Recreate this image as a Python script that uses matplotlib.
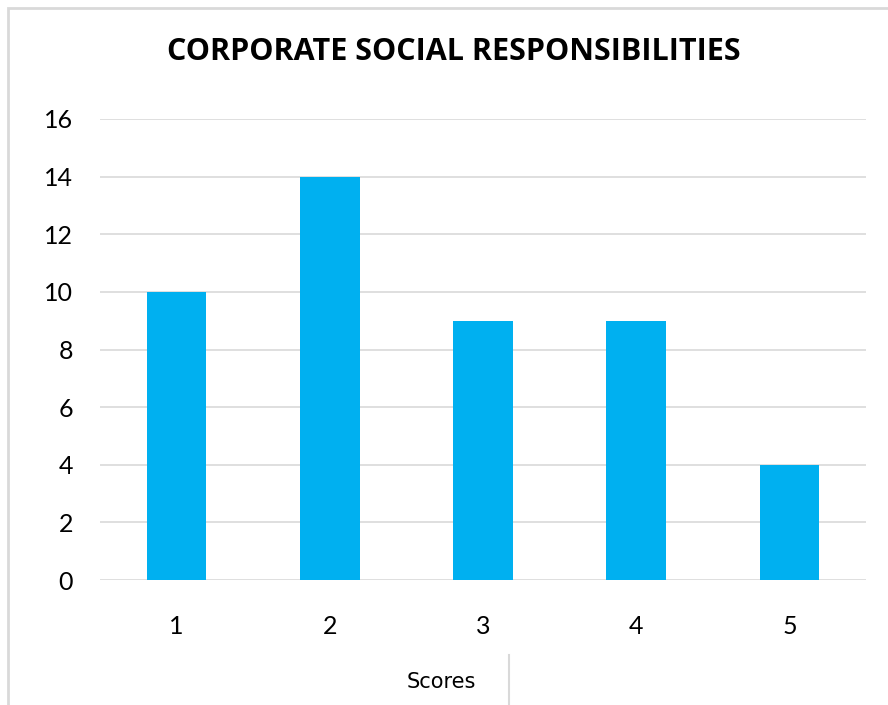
import matplotlib.pyplot as plt
from matplotlib.patches import Rectangle
from matplotlib.lines import Line2D

scores = ["1", "2", "3", "4", "5"]
counts = [10, 14, 9, 9, 4]
yticks = [0, 2, 4, 6, 8, 10, 12, 14, 16]

W, H = 888, 705
fig = plt.figure(figsize=(W / 100, H / 100), dpi=100)
plt.rcParams['font.family'] = ['Lato', 'DejaVu Sans']

# chart area frame
fig.patches.append(Rectangle((8 / W, -0.1), 1.2, 1 - 8.5 / H + 0.1, transform=fig.transFigure,
                             fill=False, edgecolor="#D9D9D9", linewidth=2, zorder=0))

ax = fig.add_axes([100 / W, 1 - 580 / H, 766 / W, 461 / H])
x = range(len(scores))
ax.bar(x, counts, width=0.39, color="#00B0F0", zorder=3)
ax.set_xlim(-0.5, len(scores) - 0.5)
ax.set_ylim(0, 16)
ax.set_yticks(yticks)
ax.set_xticks(list(x))
ax.set_xticklabels(scores)
ax.yaxis.grid(True, color="#D9D9D9", linewidth=1.2)
ax.set_axisbelow(True)
for s in ax.spines.values():
    s.set_visible(False)
ax.tick_params(axis="both", length=0, labelsize=18, colors="#000000")
ax.tick_params(axis="y", pad=19.5)
ax.tick_params(axis="x", pad=25)

fig.text(454 / W, 1 - 52 / H, "CORPORATE SOCIAL RESPONSIBILITIES", ha="center", va="center",
         fontsize=22, fontweight="bold", family=["Open Sans", "DejaVu Sans"], color="#000000")
fig.text(441 / W, 1 - 682 / H, "Scores", ha="center", va="center", fontsize=15,
         family=["DejaVu Sans"], color="#000000")
fig.lines.append(Line2D([509 / W, 509 / W], [0, 1 - 655 / H], transform=fig.transFigure,
                        color="#D9D9D9", linewidth=1.5))

fig.savefig("out.png", dpi=100)
